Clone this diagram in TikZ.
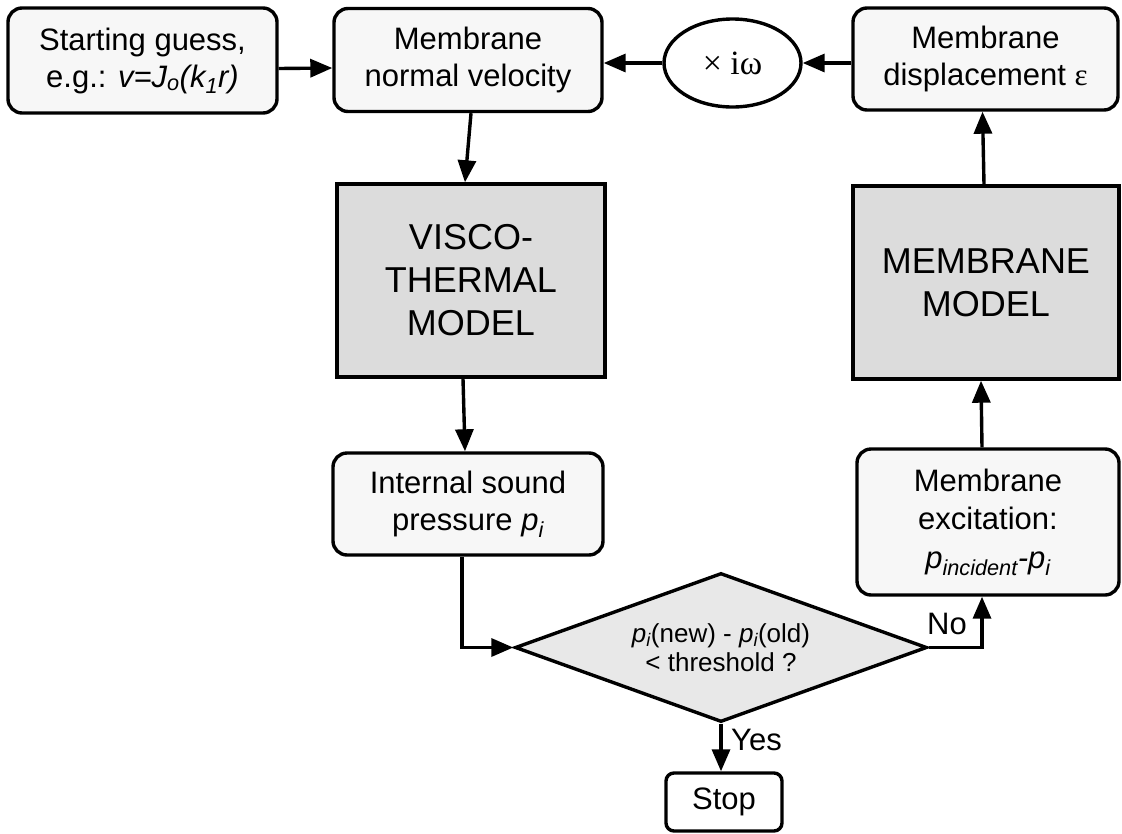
\documentclass[tikz,border=0pt]{standalone}
\usepackage{fontspec}
\setmainfont{Liberation Sans}
\newfontfamily\seriffam{Liberation Serif}
\usetikzlibrary{shapes.geometric,arrows.meta}
\definecolor{lightbox}{HTML}{F7F7F7}
\definecolor{graybox}{HTML}{DCDCDC}
\definecolor{diafill}{HTML}{E8E8E8}
\tikzset{
  base/.style={draw=black, line width=3.4pt, align=center, inner sep=0pt,
    font=\fontsize{31}{37}\selectfont},
  rbox/.style={base, rounded corners=14pt, fill=lightbox},
  gbox/.style={base, fill=graybox, font=\fontsize{36}{43}\selectfont},
  arr/.style={line width=3.4pt, -{Triangle[length=22pt,width=18pt]}},
  lab/.style={font=\fontsize{31}{37}\selectfont, inner sep=0pt}
}
\begin{document}
\begin{tikzpicture}[x=1pt,y=-1pt]
\useasboundingbox (0,0) rectangle (1122,833);
\node[rbox, minimum width=269pt, minimum height=105pt] (start) at (142.5,60.5)
  {Starting guess,\\ e.g.: \textit{v=J\textsubscript{o}(k\textsubscript{1}r)}};
\node[rbox, minimum width=268pt, minimum height=103pt] (vel) at (468,60)
  {Membrane\\ normal velocity};
\node[base, ellipse, fill=white, minimum width=137pt, minimum height=88pt,
  font=\fontsize{34}{40}\selectfont] (mult) at (732.5,63)
  {\seriffam × iω};
\node[rbox, minimum width=265pt, minimum height=102pt] (disp) at (985.5,59)
  {Membrane\\ displacement {\seriffam ε}};
\node[gbox, minimum width=268pt, minimum height=193pt] (visco) at (471,280.5)
  {VISCO-\\ THERMAL\\ MODEL};
\node[gbox, minimum width=266pt, minimum height=193pt] (memb) at (986,282.5)
  {MEMBRANE\\ MODEL};
\node[rbox, minimum width=270pt, minimum height=102pt] (internal) at (468,504)
  {Internal sound\\ pressure \textit{p\textsubscript{i}}};
\node[rbox, minimum width=262pt, minimum height=146pt, font=\fontsize{31}{38.5}\selectfont] (excite) at (988,522)
  {Membrane\\ excitation:\\ \textit{p\textsubscript{incident}-p\textsubscript{i}}};
\node[base, diamond, fill=diafill, aspect=2.77, minimum width=412pt, minimum height=149pt,
  font=\fontsize{26}{29}\selectfont] (dia) at (721,647.5)
  {\textit{p\textsubscript{i}}(new) - \textit{p\textsubscript{i}}(old)\\ {<} threshold ?};
\node[base, fill=white, rounded corners=8pt, minimum width=116pt, minimum height=58pt] (stop) at (724,802) {Stop};

\draw[arr] ([yshift=-8pt]start.east) -- ([yshift=-8pt]vel.west);
\draw[arr] (disp.west |- mult.east) -- (mult.east);
\draw[arr] (mult.west) -- (vel.east |- mult.west);
\draw[arr] (visco.north |- vel.south) -- ([xshift=-6pt]visco.north);
\draw[arr] ([xshift=-8pt]visco.south) -- ([xshift=-3pt]internal.north);
\draw[arr] ([xshift=-6pt]internal.south) |- (dia.west);
\draw[arr] (dia.east) -| ([xshift=-6pt]excite.south);
\draw[arr] ([xshift=-6pt]excite.north) -- ([xshift=-5pt]memb.south);
\draw[arr] ([xshift=-2pt]memb.north) -- ([xshift=-3pt]disp.south);
\draw[arr] (dia.south) -- (stop.north -| dia.south);
\node[lab, anchor=west] (yes) at (731,740) {Yes};
\node[lab, anchor=west] (no) at (927,624) {No};
\end{tikzpicture}
\end{document}
